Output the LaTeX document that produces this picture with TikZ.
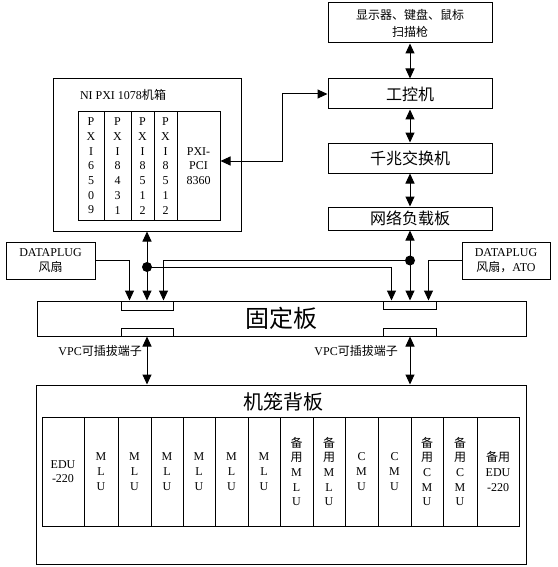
\documentclass[tikz,border=0pt]{standalone}
\usepackage{fontspec}
\setmainfont{Liberation Serif}
\newfontfamily\cjk{Noto Sans CJK SC}
\newcommand\zh[1]{{\cjk #1}}
\usetikzlibrary{arrows.meta,calc}
\begin{document}
\begin{tikzpicture}[x=1pt,y=-1pt,
  box/.style={draw,line width=1pt,inner sep=0pt,align=center},
  slot/.style={draw,line width=1pt,inner sep=0pt,align=center,font=\fontsize{12}{14.7}\selectfont},
  dbl/.style={line width=1pt,{Triangle[length=10pt,width=9pt]}-{Triangle[length=10pt,width=9pt]}},
  arr/.style={line width=1pt,-{Triangle[length=10pt,width=9pt]}},
  dot/.style={circle,fill,inner sep=0pt,minimum size=10pt},
  lbl/.style={font=\fontsize{12}{15}\selectfont,inner sep=0pt,align=center},
  zhmid/.style={font={\cjk\fontsize{16}{16}\selectfont}}]
\useasboundingbox (0,0) rectangle (557,567);
% right column
\node[box,minimum width=164pt,minimum height=40pt,font={\cjk\fontsize{12}{17}\selectfont}] (top) at (410,23) {显示器、键盘、鼠标\\扫描枪};
\node[box,zhmid,minimum width=164pt,minimum height=30pt] (gkj) at (410,94) {工控机};
\node[box,zhmid,minimum width=164pt,minimum height=30pt] (qz) at (410,158) {千兆交换机};
\node[box,zhmid,minimum width=164pt,minimum height=23pt] (wl) at (410,218.5) {网络负载板};
\draw[dbl] (top.south) -- (gkj.north);
\draw[dbl] (gkj.south) -- (qz.north);
\draw[dbl] (qz.south) -- (wl.north);
% chassis
\node[box,minimum width=188pt,minimum height=152pt] (chassis) at (147,155) {};
\node[lbl] (ctitle) at (123,95) {NI PXI 1078\zh{机箱}};
\foreach \a/\b/\t [count=\i] in {78/104/{P\\X\\I\\6\\5\\0\\9},104/131/{P\\X\\I\\8\\4\\3\\1},131/154/{P\\X\\I\\8\\5\\1\\2},154/177/{P\\X\\I\\8\\5\\1\\2},177/220/{PXI-\\PCI\\8360}}
  \node[slot,minimum width={(\b-\a)*1pt},minimum height=108pt] (p\i) at ({(\a+\b)/2},166) {\t};
\coordinate (bend) at (282,161);
\draw[dbl] (gkj.west) -| (bend) -- (bend -| p5.east);
% fixed plate
\node[box,minimum width=489pt,minimum height=35pt,font={\cjk\fontsize{24}{24}\selectfont}] (fix) at (281.5,318.5) {固定板};
\node[box,minimum width=52pt,minimum height=9pt] (lrt) at (147,305.5) {};
\node[box,minimum width=53pt,minimum height=8pt] (rrt) at (410,305) {};
\node[box,minimum width=52pt,minimum height=8pt] (lrb) at (147,332) {};
\node[box,minimum width=53pt,minimum height=8pt] (rrb) at (410,332) {};
% dataplug boxes
\node[box,lbl,minimum width=89pt,minimum height=37pt] (dpl) at (50.5,260.5) {DATAPLUG\\\zh{风扇}};
\node[box,lbl,minimum width=88pt,minimum height=37pt] (dpr) at (506,260.5) {DATAPLUG\\\zh{风扇，}ATO};
\draw[dbl] (chassis.south) -- (lrt.north);
\draw[dbl] (wl.south) -- (rrt.north);
\node[dot] (dl) at (147,267) {};
\node[dot] (dr) at (410,260.5) {};
\draw[arr] (dl.center) -| ([xshift=8.5pt]rrt.north west);
\draw[arr] (dr.center) -| ([xshift=-10pt]lrt.north east);
\draw[arr] (dpl.east) -| ([xshift=9pt]lrt.north west);
\draw[arr] (dpr.west) -| ([xshift=-8.5pt]rrt.north east);
% VPC labels
\node[lbl,anchor=east] (vpcl) at (142,351) {VPC\zh{可插拔端子}};
\node[lbl,anchor=east] (vpcr) at (398,351) {VPC\zh{可插拔端子}};
% cage
\node[box,minimum width=490pt,minimum height=179pt] (cage) at (281,474.5) {};
\node[font={\cjk\fontsize{20}{20}\selectfont},inner sep=0pt] (cagt) at (283,402) {机笼背板};
\draw[dbl] (lrb.south) -- (lrb.south |- cage.north);
\draw[dbl] (rrb.south) -- (rrb.south |- cage.north);
\foreach \a/\b/\t [count=\i] in {42/84/{EDU\\-220},84/118/{M\\L\\U},118/151/{M\\L\\U},151/183/{M\\L\\U},183/215/{M\\L\\U},215/248/{M\\L\\U},248/280/{M\\L\\U},280/313/{\zh{备}\\\zh{用}\\M\\L\\U},313/345/{\zh{备}\\\zh{用}\\M\\L\\U},345/378/{C\\M\\U},378/411/{C\\M\\U},411/443/{\zh{备}\\\zh{用}\\C\\M\\U},443/477/{\zh{备}\\\zh{用}\\C\\M\\U},477/519/{\zh{备用}\\EDU\\-220}}
  \node[slot,minimum width={(\b-\a)*1pt},minimum height=109pt] (c\i) at ({(\a+\b)/2},471.5) {\t};
\end{tikzpicture}
\end{document}
